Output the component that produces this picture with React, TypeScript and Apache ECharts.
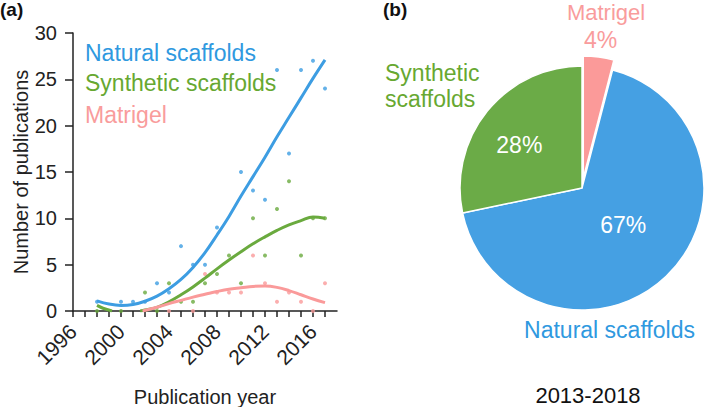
import React, { useEffect, useRef } from 'react';
import * as echarts from 'echarts';

const seriesNames = ['Natural scaffolds', 'Synthetic scaffolds', 'Matrigel'];
const xLabelYears = [1996, 2000, 2004, 2008, 2012, 2016];
const xTickYears = [1996, 1997, 1998, 1999, 2000, 2001, 2002, 2003, 2004, 2005, 2006, 2007, 2008, 2009, 2010, 2011, 2012, 2013, 2014, 2015, 2016, 2017];

const naturalPoints = [[1998, 1], [2000, 1], [2001, 1], [2002, 1], [2003, 3], [2004, 2], [2005, 7], [2006, 5], [2007, 5], [2008, 9], [2010, 15], [2011, 13], [2012, 12], [2013, 26], [2014, 17], [2015, 26], [2016, 27], [2017, 24]];
const syntheticPoints = [[1998, 0], [2000, 0], [2002, 2], [2003, 0], [2004, 3], [2005, 1], [2006, 1], [2007, 3], [2008, 4], [2009, 6], [2010, 3], [2011, 10], [2012, 6], [2013, 11], [2014, 14], [2015, 6], [2016, 10], [2017, 10]];
const matrigelPoints = [[2004, 0], [2006, 0], [2007, 4], [2008, 2], [2009, 2], [2010, 2], [2011, 6], [2012, 3], [2013, 1], [2014, 2], [2015, 1], [2016, 0], [2017, 3]];

const naturalCurve = [[1998, 1.1], [1999, 0.75], [2000, 0.6], [2001, 0.7], [2002, 1.05], [2003, 1.6], [2004, 2.4], [2005, 3.4], [2006, 4.7], [2007, 6.3], [2008, 8.2], [2009, 10.2], [2010, 12.4], [2011, 14.5], [2012, 16.6], [2013, 18.8], [2014, 20.9], [2015, 23.0], [2016, 25.1], [2017, 27.1]];
const syntheticCurveEarly = [[1998, 0.6], [1998.5, 0.3], [1999.25, 0]];
const syntheticCurve = [[2001.6, 0], [2002, 0.1], [2003, 0.4], [2004, 1.0], [2005, 1.75], [2006, 2.6], [2007, 3.55], [2008, 4.55], [2009, 5.5], [2010, 6.4], [2011, 7.25], [2012, 8.0], [2013, 8.7], [2014, 9.3], [2015, 9.75], [2016, 10.15], [2017, 10.0]];
const matrigelCurve = [[2001.8, 0], [2003, 0.4], [2004, 0.8], [2005, 1.15], [2006, 1.5], [2007, 1.8], [2008, 2.1], [2009, 2.35], [2010, 2.5], [2011, 2.65], [2012, 2.7], [2013, 2.55], [2014, 2.2], [2015, 1.75], [2016, 1.3], [2017, 0.9]];

const pieCategories = ['Matrigel', 'Natural scaffolds', 'Synthetic scaffolds'];
const pieShares = [4, 67, 28];
const pieTitle = '2013-2018';

const lineColors = ['#3d9de2', '#6aaa3e', '#fa9a9a'];
const textColors = ['#2f99df', '#67a831', '#f99c9c'];
const pieColors = ['#fb9a99', '#45a0e3', '#6bab47'];
const FONT = "'Liberation Sans', Arial, Helvetica, sans-serif";

export default function App() {
  const ref = useRef<HTMLDivElement>(null);
  useEffect(() => {
    if (!ref.current) return;
    const chart = echarts.init(ref.current, null, { renderer: 'svg' });
    const scatter = (name: string, data: number[][], color: string) => ({
      type: 'scatter', name, data, symbolSize: 4, itemStyle: { color }, silent: true, z: 2,
    });
    const curve = (name: string, data: number[][], color: string) => ({
      type: 'line', name, data, smooth: 0.4, showSymbol: false, clip: true, silent: true,
      lineStyle: { color, width: 3 }, z: 3,
    });
    const labelOffsets: Record<string, number[]> = {
      'Natural scaffolds': [-3, -9],
      'Synthetic scaffolds': [-13, -3],
    };
    chart.setOption({
      animation: false,
      textStyle: { fontFamily: FONT },
      grid: { left: 73, top: 33, width: 264, height: 278, containLabel: false, outerBoundsMode: 'none' },
      xAxis: {
        type: 'value', min: 1996, max: 2018,
        name: 'Publication year', nameLocation: 'middle', nameGap: 76,
        nameTextStyle: { fontSize: 20, color: '#222', fontFamily: FONT },
        axisLine: { lineStyle: { color: '#222', width: 1.5 } },
        axisTick: { show: true, customValues: xTickYears, length: 6, lineStyle: { color: '#222', width: 1.5 } },
        axisLabel: { customValues: xLabelYears, rotate: 45, fontSize: 21, color: '#222', margin: 17, fontFamily: FONT, formatter: (v: number) => String(v) },
        splitLine: { show: false },
      },
      yAxis: {
        type: 'value', min: 0, max: 30, interval: 5,
        name: 'Number of publications', nameLocation: 'middle', nameGap: 36,
        nameTextStyle: { fontSize: 20, color: '#222', fontFamily: FONT },
        axisLine: { show: true, lineStyle: { color: '#222', width: 1.5 } },
        axisTick: { show: true, length: 8, lineStyle: { color: '#222', width: 1.5 } },
        axisLabel: { fontSize: 20, color: '#222', margin: 16, fontFamily: FONT },
        splitLine: { show: false },
      },
      series: [
        scatter(seriesNames[0], naturalPoints, lineColors[0]),
        scatter(seriesNames[1], syntheticPoints, lineColors[1]),
        scatter(seriesNames[2], matrigelPoints, lineColors[2]),
        curve(seriesNames[0], naturalCurve, lineColors[0]),
        curve(seriesNames[1], syntheticCurveEarly, lineColors[1]),
        curve(seriesNames[1], syntheticCurve, lineColors[1]),
        curve(seriesNames[2], matrigelCurve, lineColors[2]),
        {
          type: 'pie', center: [582, 188], radius: 122, startAngle: 90, clockwise: true,
          selectedMode: 'single', selectedOffset: 10, avoidLabelOverlap: false, silent: true,
          itemStyle: { borderColor: '#fff', borderWidth: 1.5 },
          emphasis: { disabled: true },
          labelLine: { show: false },
          data: pieCategories.map((name, i) => ({
            name, value: pieShares[i], selected: i === 0,
            itemStyle: { color: pieColors[i] },
            label: {
              show: i !== 0, position: 'inside', formatter: '{c}%', color: '#fff', fontSize: 23,
              fontFamily: FONT, offset: labelOffsets[name] || [0, 0],
            },
          })),
        },
      ],
      graphic: [
        { type: 'text', left: 0, top: 0, style: { text: '(a)', fontSize: 19, fontWeight: 'bold', fill: '#111', fontFamily: FONT } },
        { type: 'text', left: 383, top: 0, style: { text: '(b)', fontSize: 19, fontWeight: 'bold', fill: '#111', fontFamily: FONT } },
        ...seriesNames.map((t, i) => ({
          type: 'text', x: 85, y: [53.4, 83, 115.3][i],
          style: { text: t, fontSize: 23, fill: textColors[i], fontFamily: FONT, verticalAlign: 'middle', align: 'left' },
        })),
        { type: 'text', x: 606, y: 12, style: { text: pieCategories[0], fontSize: 22, fill: textColors[2], fontFamily: FONT, align: 'center', verticalAlign: 'middle' } },
        { type: 'text', x: 600.5, y: 40, style: { text: pieShares[0] + '%', fontSize: 23, fill: textColors[2], fontFamily: FONT, align: 'center', verticalAlign: 'middle' } },
        { type: 'text', x: 385, y: 86.3, style: { text: 'Synthetic\nscaffolds', lineHeight: 26, fontSize: 23, fill: textColors[1], fontFamily: FONT, align: 'left', verticalAlign: 'middle' } },
        { type: 'text', x: 609.5, y: 329.6, style: { text: pieCategories[1], fontSize: 23, fill: textColors[0], fontFamily: FONT, align: 'center', verticalAlign: 'middle' } },
        { type: 'text', x: 588, y: 395.6, style: { text: pieTitle, fontSize: 22, fill: '#111', fontFamily: FONT, align: 'center', verticalAlign: 'middle' } },
      ],
    });
    return () => chart.dispose();
  }, []);
  return <div ref={ref} style={{ position: 'absolute', left: 0, top: 0, width: 706, height: 407 }} />;
}
